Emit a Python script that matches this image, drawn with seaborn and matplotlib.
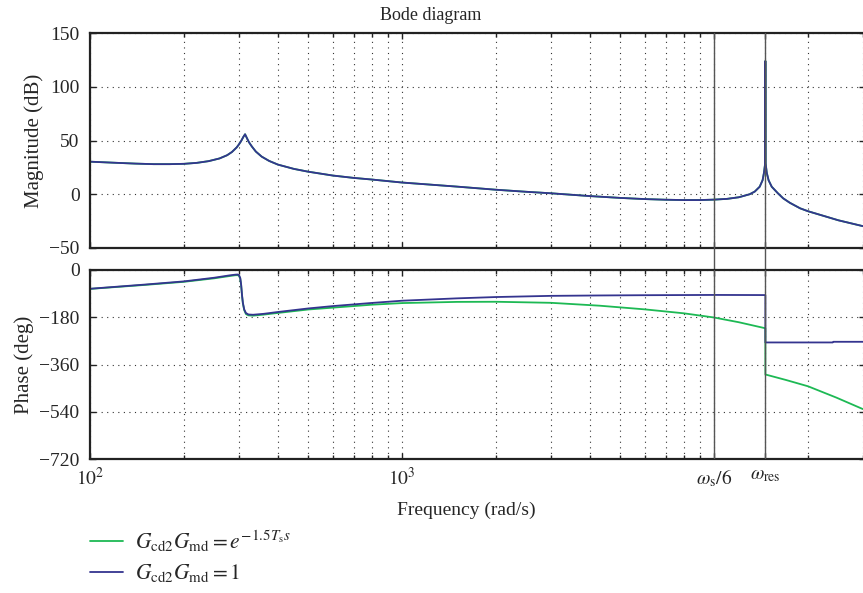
import numpy as np
import pandas as pd
import seaborn as sns
import matplotlib
matplotlib.use("Agg")
import matplotlib.pyplot as plt
from matplotlib.ticker import FixedLocator, LogLocator, NullFormatter, FixedFormatter

# ---------------- data ----------------
freq_mag = [100, 120, 140, 160, 180, 200, 220, 240, 260, 275, 285, 295, 300, 305, 310, 314,
            318, 323, 330, 340, 355, 375, 400, 450, 500, 600, 700, 800, 1000, 1200, 1500,
            2000, 2500, 3000, 3500, 4000, 5000, 6000, 7000, 8000, 9000, 10000, 11000, 12000,
            13000, 13500, 14000, 14300, 14450, 14550, 14590, 14600, 14610, 14650, 14750, 14950,
            15300, 16000, 16650, 17500, 18870, 20000, 22970, 25000, 30000]
mag_db = [30.3, 29.3, 28.5, 28.0, 28.0, 28.3, 29.2, 30.8, 33.3, 36.3, 39.3, 43.5, 46.3, 49.5, 53.3, 55.8,
          52.5, 48.5, 44.5, 39.7, 35.0, 31.0, 27.6, 23.6, 21.0, 17.4, 15.2, 13.7, 10.9, 9.2, 7.1,
          4.2, 2.3, 0.9, -0.5, -1.7, -3.4, -4.5, -5.1, -5.4, -5.4, -5.0, -4.3, -2.8,
          0.0, 2.5, 7.0, 13.0, 20.0, 27.0, 31.0, 124.0, 31.0, 27.0, 20.0, 13.0,
          7.0, 1.0, -3.8, -8.0, -13.1, -15.8, -21.0, -24.2, -29.7]

freq_ph_blue = [100, 150, 200, 250, 280, 292, 297, 300, 303, 305, 307, 309, 312, 316, 322, 333,
                360, 400, 500, 600, 800, 1000, 1500, 2000, 3000, 4300, 6000, 10000, 14600,
                14600, 20000, 24000, 24100, 30000]
phase_blue = [-71.5, -55.5, -43.4, -29.5, -20.5, -17.8, -17.2, -19.0, -30.0, -55.0, -95.0, -125.0,
              -150.0, -164.0, -169.5, -170.5, -167.0, -160.0, -146.5, -137.5, -125.5, -117.0,
              -108.0, -103.0, -98.5, -97.0, -96.0, -95.0, -95.5,
              -276.0, -276.0, -276.0, -273.5, -273.5]

freq_ph_green = [100, 150, 200, 250, 280, 292, 297, 300, 303, 305, 307, 309, 312, 316, 322, 333,
                 360, 400, 500, 600, 800, 1000, 1500, 2000, 3000, 4300, 6000, 8000, 10000, 12000,
                 14600, 14600, 17000, 20000, 24640, 30000]
phase_green = [-72.0, -56.8, -45.0, -31.7, -23.0, -20.0, -19.6, -21.6, -32.6, -57.6, -97.6, -127.6,
               -152.7, -167.7, -172.8, -173.9, -170.0, -163.6, -150.5, -143.4, -132.2, -126.0,
               -121.5, -121.0, -125.0, -136.0, -150.0, -165.0, -181.0, -199.0,
               -222.0, -398.0, -419.0, -443.0, -486.0, -530.0]

w_s6 = 10000
w_res = 14600
xtick_vals = [100, 1000, w_s6, w_res]
xtick_labels = [r"$10^2$", r"$10^3$", r"$\omega_{\mathrm{s}}/6$", r"$\omega_{\mathrm{res}}$"]
mag_ticks = [-50, 0, 50, 100, 150]
phase_ticks = [-720, -540, -360, -180, 0]
labels = [r"$G_{\mathrm{cd2}}G_{\mathrm{md}}=e^{-1.5T_{\mathrm{s}}s}$",
          r"$G_{\mathrm{cd2}}G_{\mathrm{md}}=1$"]

GREEN = "#1db954"
BLUE = "#34348f"

# ---------------- style ----------------
sns.set_theme(style="ticks")
plt.rcParams["font.family"] = ["Liberation Serif", "DejaVu Serif"]
plt.rcParams["mathtext.fontset"] = "stix"
plt.rcParams["axes.unicode_minus"] = True

W, H = 863, 593
fig = plt.figure(figsize=(W / 100, H / 100), dpi=100)

def fx(px):
    return px / W

def fy(py):
    return 1 - py / H

left, right = 90, 865
ax1 = fig.add_axes([fx(left), fy(248), fx(right - left), fy(33) - fy(248)])
ax2 = fig.add_axes([fx(left), fy(459), fx(right - left), fy(270) - fy(459)])

df_mag = pd.DataFrame({"freq": freq_mag, "mag": mag_db})
df_pb = pd.DataFrame({"freq": freq_ph_blue, "phase": phase_blue})
df_pg = pd.DataFrame({"freq": freq_ph_green, "phase": phase_green})

lw = 1.3
sns.lineplot(data=df_mag, x="freq", y="mag", ax=ax1, color=GREEN, lw=lw, sort=False, estimator=None)
sns.lineplot(data=df_mag, x="freq", y="mag", ax=ax1, color=BLUE, lw=lw, sort=False, estimator=None)
sns.lineplot(data=df_pg, x="freq", y="phase", ax=ax2, color=GREEN, lw=lw, sort=False,
             estimator=None, label=labels[0])
sns.lineplot(data=df_pb, x="freq", y="phase", ax=ax2, color=BLUE, lw=lw, sort=False,
             estimator=None, label=labels[1])

xmax = 30450
for ax in (ax1, ax2):
    ax.set_xscale("log")
    ax.set_xlim(100, xmax)
    ax.xaxis.set_major_locator(FixedLocator(xtick_vals))
    ax.xaxis.set_minor_locator(LogLocator(base=10, subs=np.arange(2, 10)))
    ax.xaxis.set_minor_formatter(NullFormatter())
    ax.set_xlabel("")
    ax.set_ylabel("")
    ax.tick_params(which="both", direction="in", top=True, right=True, labelsize=14,
                   width=1.0, color="#222222")
    ax.tick_params(which="major", length=4)
    ax.tick_params(which="minor", length=3)
    ax.tick_params(axis="y", which="major", pad=7.5)
    ax.grid(True, which="both", axis="x", linestyle=(0, (1, 4)), color="#333333", lw=0.8)
    ax.grid(True, which="major", axis="y", linestyle=(0, (1, 4)), color="#333333", lw=0.8)
    for sp in ax.spines.values():
        sp.set_linewidth(1.6)
        sp.set_color("#222222")

ax1.set_ylim(-50, 150)
ax1.set_yticks(mag_ticks)
ax1.tick_params(labelbottom=False)
ax1.set_ylabel("Magnitude (dB)", fontsize=15, labelpad=4)

ax2.set_ylim(-720, 0)
ax2.set_yticks(phase_ticks)
ax2.xaxis.set_major_formatter(FixedFormatter(xtick_labels))
ax2.tick_params(axis="x", which="major", pad=6)
ax2.set_ylabel("Phase (deg)", fontsize=15, labelpad=4)

# vertical marker lines spanning both panels
gap_frac = (270 - 248) / (248 - 33)
for xv in (w_s6, w_res):
    ax1.axvline(xv, ymin=-gap_frac, ymax=1, color="#555555", lw=1.0, clip_on=False, zorder=5)
    ax2.axvline(xv, ymin=0, ymax=1, color="#555555", lw=1.0, zorder=5)

fig.text(fx(431), fy(15), "Bode diagram", ha="center", va="center", fontsize=13)
fig.text(fx(466), fy(510), "Frequency (rad/s)", ha="center", va="center", fontsize=14)

handles, lbls = ax2.get_legend_handles_labels()
ax2.get_legend().remove()
fig.legend(handles, lbls, loc="upper left", bbox_to_anchor=(fx(90), fy(528)),
           frameon=False, fontsize=15.5, handlelength=1.55, handletextpad=0.55,
           labelspacing=0.4, borderpad=0, borderaxespad=0)

fig.savefig("out.png", dpi=100)
